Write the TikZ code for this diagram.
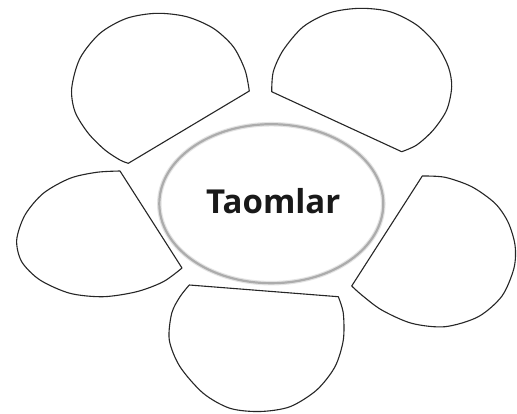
\documentclass[tikz,border=0pt]{standalone}
\usepackage{fontspec}
\setmainfont{Open Sans}
\usetikzlibrary{shapes.geometric}
\begin{document}
\begin{tikzpicture}[x=1pt,y=-1pt,
  petal/.style={draw=black!85, line width=1.1pt, line join=round, fill=white},
  hub/.style={ellipse, draw=gray!65, line width=2.2pt, minimum width=224pt, minimum height=159pt, inner sep=0pt,
    preaction={draw=gray!22, line width=4.5pt}},
  title/.style={font=\fontsize{33}{38}\selectfont\bfseries, text=black!90, anchor=base, inner sep=0pt}]
\useasboundingbox[fill=white] (0,0) rectangle (517,413);
% top-left petal
\draw[petal] plot[smooth, tension=0.5] coordinates {(249.3,91) (245,70) (233.3,46.7) (213.3,28.3) (186.7,16.7) (156.7,13.3) (126.7,18.3) (100,33.3) (80,58.3) (71.7,88.3) (75,111.7) (88.3,133.3) (105,150) (120,160) (128.3,163.3)} -- cycle;
% top-right petal
\draw[petal] plot[smooth, tension=0.5] coordinates {(271.7,91.7) (273.3,71.7) (283.3,50) (303.3,26.7) (330,12.7) (360,8.3) (390,11.7) (416.7,25) (436.7,45) (448.3,66.7) (451.7,86.7) (446.7,110) (433.3,130) (416.7,145) (401.7,151.7)} -- cycle;
% left petal
\draw[petal] plot[smooth, tension=0.5] coordinates {(120,171) (96.7,172.3) (70,178.3) (43.3,193.3) (25,215) (16.7,240) (21.7,261.7) (40,280) (70,293.3) (103.3,296.7) (136.7,291.7) (163.3,281.7) (182,268)} -- cycle;
% right petal
\draw[petal] plot[smooth, tension=0.5] coordinates {(422.3,176) (445,177.3) (471.7,186.7) (495,203.3) (508,222) (515,245) (514,268) (502,296) (478.3,316.7) (445,326.7) (411.7,323.3) (381.7,310) (361.7,295) (351.7,286)} -- cycle;
% bottom petal
\draw[petal] plot[smooth, tension=0.5] coordinates {(338.3,296.7) (343.3,313.3) (343.3,340) (335,366.7) (316.7,390) (290,406.7) (260,411.5) (230,408.3) (203.3,393.3) (180,366.7) (169.3,340) (171.7,313.3) (180,296.7) (189.3,285)} -- cycle;
% centre
\node[hub] (hub) at (271.3,203.7) {};
\node[title] (label) at (273.3,213) {Taomlar};
\end{tikzpicture}
\end{document}
